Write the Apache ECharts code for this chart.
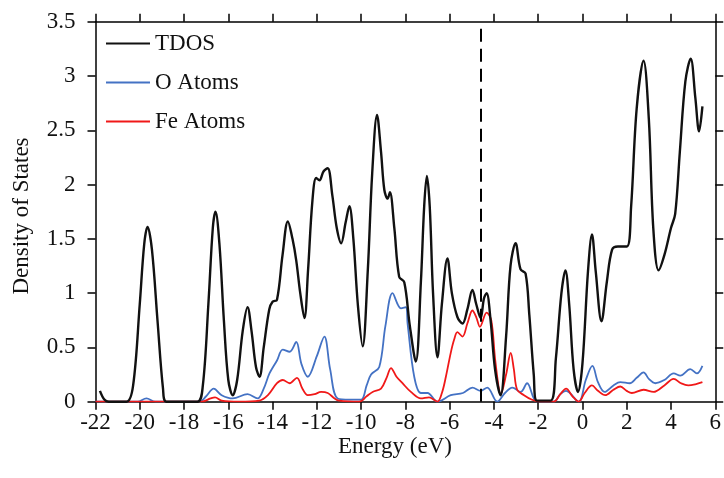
<!DOCTYPE html>
<html>
<head>
<meta charset="utf-8">
<script src="https://cdn.jsdelivr.net/npm/echarts@6/dist/echarts.min.js"></script>
<style>html,body{margin:0;padding:0;background:#fff}#c{width:724px;height:478px}</style>
</head>
<body>
<div id="c"></div>
<script>
// Energy (eV) and values for each series
var tdosE = [-21.8,-21.6,-21.4,-20.6,-20.3,-20.0,-19.8,-19.65,-19.45,-19.2,-18.95,-18.8,-17.4,-17.15,-16.9,-16.7,-16.58,-16.4,-16.2,-16.0,-15.8,-15.6,-15.35,-15.13,-14.95,-14.75,-14.59,-14.4,-14.15,-14.0,-13.8,-13.55,-13.31,-13.1,-12.93,-12.75,-12.56,-12.4,-12.2,-12.03,-11.88,-11.7,-11.51,-11.3,-11.1,-10.9,-10.7,-10.53,-10.35,-10.15,-9.93,-9.7,-9.5,-9.28,-9.1,-8.95,-8.8,-8.7,-8.5,-8.28,-8.05,-7.8,-7.53,-7.3,-7.15,-7.03,-6.9,-6.75,-6.55,-6.35,-6.1,-5.9,-5.65,-5.42,-5.2,-4.97,-4.8,-4.6,-4.45,-4.33,-4.15,-3.95,-3.7,-3.45,-3.25,-3.02,-2.8,-2.57,-2.4,-2.2,-2.06,-1.44,-1.2,-0.95,-0.77,-0.6,-0.4,-0.2,0.0,0.25,0.43,0.6,0.86,1.1,1.34,1.6,2.01,2.2,2.45,2.76,3.0,3.2,3.44,3.7,4.0,4.19,4.4,4.65,4.89,5.1,5.27,5.42];
var tdosV = [0.1,0.02,0,0,0.15,0.9,1.45,1.61,1.4,0.75,0.12,0,0,0.15,0.9,1.6,1.75,1.45,0.75,0.2,0.06,0.2,0.65,0.87,0.65,0.32,0.23,0.5,0.85,0.92,0.94,1.35,1.66,1.5,1.3,1.0,0.77,1.2,1.85,2.06,2.04,2.12,2.15,1.9,1.6,1.46,1.65,1.8,1.5,0.9,0.51,1.2,2.1,2.64,2.3,1.95,1.87,1.93,1.6,1.15,1.1,0.7,0.37,1.1,1.8,2.08,1.8,1.0,0.41,0.9,1.32,1.0,0.78,0.72,0.85,1.03,0.9,0.77,0.95,1.0,0.75,0.3,0.06,0.6,1.25,1.46,1.22,1.18,0.8,0.25,0.01,0.01,0.4,1.0,1.21,0.9,0.3,0.09,0.35,1.2,1.54,1.2,0.74,1.1,1.4,1.43,1.43,1.8,2.7,3.14,2.6,1.6,1.21,1.35,1.6,1.73,2.3,2.95,3.16,2.8,2.49,2.72];

var oE = [-22,-20.1,-19.7,-19.3,-17.3,-17.0,-16.66,-16.3,-15.8,-15.13,-14.68,-14.4,-14.14,-13.8,-13.54,-13.23,-12.93,-12.7,-12.41,-12.0,-11.66,-11.4,-11.06,-10.5,-10.0,-9.75,-9.55,-9.18,-8.9,-8.58,-8.2,-7.98,-7.9,-7.6,-7.3,-7.0,-6.55,-5.95,-5.4,-4.97,-4.6,-4.3,-3.85,-3.5,-3.17,-2.79,-2.5,-2.06,-1.3,-1.0,-0.74,-0.17,0.15,0.45,0.7,1.0,1.4,1.71,2.14,2.45,2.76,3.0,3.29,3.7,4.12,4.42,4.87,5.17,5.42];
var oV = [0,0,0.03,0,0,0.05,0.12,0.06,0.03,0.07,0.03,0.12,0.26,0.38,0.48,0.46,0.55,0.35,0.23,0.42,0.6,0.3,0.03,0.02,0.02,0.15,0.25,0.32,0.7,1.0,0.86,0.87,0.72,0.23,0.08,0.08,0.0,0.06,0.08,0.13,0.1,0.13,0.0,0.08,0.13,0.09,0.17,0.0,0.0,0.07,0.1,0.0,0.2,0.33,0.18,0.09,0.15,0.18,0.17,0.22,0.27,0.21,0.17,0.2,0.26,0.24,0.3,0.26,0.33];

var feE = [-22,-17.2,-16.8,-16.6,-16.3,-15.5,-14.6,-14.21,-13.8,-13.54,-13.23,-12.9,-12.65,-12.41,-12.1,-11.81,-11.51,-11.2,-11.0,-10.08,-9.75,-9.48,-9.1,-8.85,-8.65,-8.4,-8.13,-7.75,-7.3,-6.93,-6.55,-6.35,-6.17,-5.95,-5.8,-5.65,-5.42,-5.2,-4.97,-4.8,-4.63,-4.33,-4.12,-3.95,-3.77,-3.7,-3.45,-3.24,-3.1,-2.95,-2.64,-2.3,-1.97,-1.3,-1.0,-0.74,-0.45,-0.17,0.1,0.43,0.7,1.03,1.4,1.71,2.0,2.23,2.76,3.21,3.7,4.12,4.45,4.78,5.1,5.42];
var feV = [0,0,0.03,0.04,0.01,0,0.01,0.06,0.17,0.2,0.17,0.22,0.12,0.06,0.07,0.09,0.08,0.03,0.01,0,0.05,0.09,0.12,0.22,0.31,0.23,0.17,0.09,0.03,0.04,0.0,0.08,0.23,0.45,0.57,0.64,0.6,0.72,0.84,0.78,0.69,0.82,0.75,0.4,0.11,0.07,0.25,0.45,0.3,0.11,0.06,0.02,0.0,0.0,0.07,0.12,0.05,0.0,0.08,0.15,0.1,0.06,0.11,0.14,0.1,0.08,0.11,0.09,0.15,0.21,0.17,0.15,0.16,0.18];

var fermiE = -4.6;
var seriesNames = ['TDOS','O Atoms','Fe Atoms'];
var xTitle = 'Energy (eV)';
var yTitle = 'Density of States';

function pairs(xs, ys){ return xs.map(function(x,i){ return [x, ys[i]]; }); }

var font = 'Liberation Serif, Times New Roman, serif';
var fs = 23;
var chart = echarts.init(document.getElementById('c'), null, {renderer:'canvas'});
var axisCommon = {
  axisLine:{show:true, onZero:false, lineStyle:{color:'#000', width:1.5}},
  axisTick:{show:true, inside:false, length:8, lineStyle:{color:'#000', width:1.5}},
  splitLine:{show:false}
};
chart.setOption({
  animation:false,
  backgroundColor:'#fff',
  grid:{left:95.5, right:7.3, top:21.7, bottom:76.3, containLabel:false},
  legend:{
    orient:'vertical', left:101, top:27, itemGap:16, itemWidth:44, itemHeight:2,
    icon:'rect',
    textStyle:{fontFamily:font, fontSize:fs, color:'#111'},
    data:seriesNames
  },
  xAxis:[
    Object.assign({type:'value', min:-22, max:6, interval:2, position:'bottom',
      axisLabel:{fontFamily:font, fontSize:fs, color:'#111', margin:10}}, axisCommon),
    Object.assign({type:'value', min:-22, max:6, interval:2, position:'top',
      axisLabel:{show:false}}, axisCommon)
  ],
  yAxis:[
    Object.assign({type:'value', min:0, max:3.5, interval:0.5, position:'left',
      axisLabel:{fontFamily:font, fontSize:fs, color:'#111', margin:20}}, axisCommon),
    Object.assign({type:'value', min:0, max:3.5, interval:0.5, position:'right',
      axisLabel:{show:false}}, axisCommon)
  ],
  graphic:[{
    type:'text', x:22, y:216, rotation:Math.PI/2,
    style:{text:yTitle, fontFamily:font, fontSize:fs, fill:'#111',
      align:'center', verticalAlign:'middle'}
  },{
    type:'text', x:395, y:447,
    style:{text:xTitle, fontFamily:font, fontSize:fs, fill:'#111',
      align:'center', verticalAlign:'middle'}
  }],
  series:[
    {name:'TDOS', type:'line', smooth:0.35, showSymbol:false, data:pairs(tdosE,tdosV),
     lineStyle:{color:'#111', width:2.4}, itemStyle:{color:'#111'}, z:3,
     markLine:{silent:true, symbol:'none', label:{show:false},
       lineStyle:{color:'#000', width:2, type:[13,7]},
       data:[{xAxis:fermiE}]}},
    {name:'O Atoms', type:'line', smooth:0.35, showSymbol:false, data:pairs(oE,oV),
     lineStyle:{color:'#4472C4', width:1.8}, itemStyle:{color:'#4472C4'}, z:2},
    {name:'Fe Atoms', type:'line', smooth:0.35, showSymbol:false, data:pairs(feE,feV),
     lineStyle:{color:'#F01818', width:1.8}, itemStyle:{color:'#F01818'}, z:2}
  ]
});
</script>
</body>
</html>
